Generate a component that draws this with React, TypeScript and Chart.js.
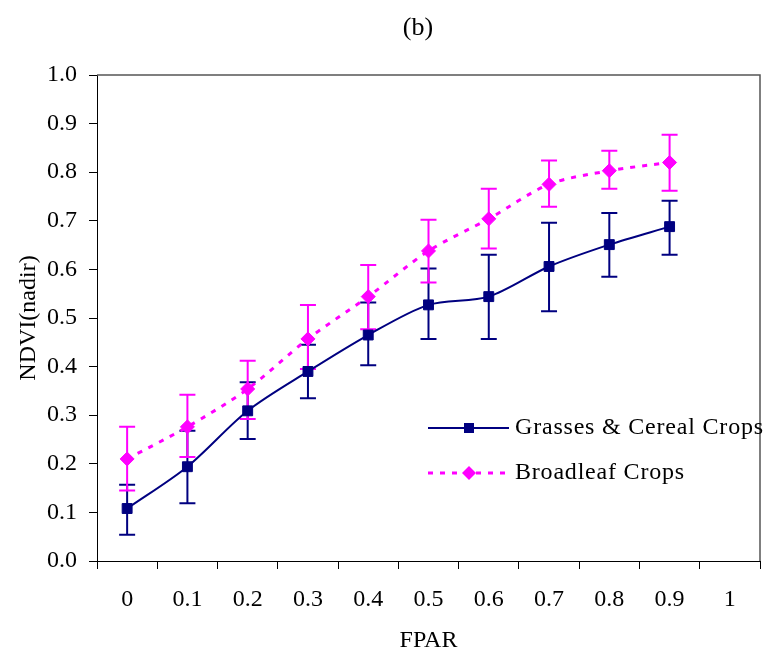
import React, { useEffect, useRef } from 'react';
import { Chart, registerables } from 'chart.js';

Chart.register(...registerables);

const categories = ['0', '0.1', '0.2', '0.3', '0.4', '0.5', '0.6', '0.7', '0.8', '0.9', '1'];

const grassesValues = [0.108, 0.194, 0.309, 0.39, 0.465, 0.527, 0.544, 0.606, 0.651, 0.688, null];
const grassesLower = [0.054, 0.119, 0.251, 0.335, 0.403, 0.457, 0.457, 0.514, 0.585, 0.63, null];
const grassesUpper = [0.157, 0.268, 0.368, 0.445, 0.532, 0.602, 0.63, 0.696, 0.716, 0.741, null];

const broadleafValues = [0.21, 0.276, 0.354, 0.457, 0.544, 0.638, 0.704, 0.775, 0.803, 0.82, null];
const broadleafLower = [0.145, 0.214, 0.292, 0.395, 0.477, 0.573, 0.643, 0.729, 0.766, 0.762, null];
const broadleafUpper = [0.276, 0.342, 0.412, 0.527, 0.609, 0.702, 0.766, 0.824, 0.844, 0.877, null];

const yTickLabels = ['0.0', '0.1', '0.2', '0.3', '0.4', '0.5', '0.6', '0.7', '0.8', '0.9', '1.0'];

const seriesNames = ['Grasses & Cereal Crops', 'Broadleaf Crops'];
const NAVY = '#000080';
const MAGENTA = '#FF00FF';
const FONT = "'Liberation Serif', 'Times New Roman', Times, serif";

const errorBarSets = [
  { lower: grassesLower, upper: grassesUpper, color: NAVY },
  { lower: broadleafLower, upper: broadleafUpper, color: MAGENTA },
];

const framePlugin = {
  id: 'frame',
  beforeDatasetsDraw(chart: any) {
    const { ctx, chartArea } = chart;
    ctx.save();
    ctx.strokeStyle = '#555555';
    ctx.lineWidth = 1.5;
    ctx.beginPath();
    ctx.moveTo(chartArea.left, chartArea.top);
    ctx.lineTo(chartArea.right, chartArea.top);
    ctx.lineTo(chartArea.right, chartArea.bottom);
    ctx.stroke();
    ctx.restore();
  },
};

const errorBarPlugin = {
  id: 'errorBars',
  beforeDatasetsDraw(chart: any) {
    const { ctx } = chart;
    const yScale = chart.scales.y;
    ctx.save();
    errorBarSets.forEach((set, i) => {
      const meta = chart.getDatasetMeta(i);
      ctx.strokeStyle = set.color;
      ctx.lineWidth = 2;
      meta.data.forEach((pt: any, j: number) => {
        const lo = set.lower[j];
        const hi = set.upper[j];
        if (lo == null || hi == null) return;
        const x = pt.x;
        const yl = yScale.getPixelForValue(lo);
        const yh = yScale.getPixelForValue(hi);
        ctx.beginPath();
        ctx.moveTo(x, yl);
        ctx.lineTo(x, yh);
        ctx.moveTo(x - 8, yl);
        ctx.lineTo(x + 8, yl);
        ctx.moveTo(x - 8, yh);
        ctx.lineTo(x + 8, yh);
        ctx.stroke();
      });
    });
    ctx.restore();
  },
};

const textPlugin = {
  id: 'texts',
  afterDraw(chart: any) {
    const { ctx, chartArea } = chart;
    ctx.save();
    // title
    ctx.fillStyle = '#000';
    ctx.font = `26px ${FONT}`;
    ctx.textAlign = 'center';
    ctx.textBaseline = 'middle';
    ctx.fillText('(b)', chartArea.left + 321, 28);

    // legend
    const lx0 = chartArea.left + 331;
    const lx1 = chartArea.left + 412;
    const mx = chartArea.left + 372;
    const tx = chartArea.left + 418;
    const y1 = chartArea.bottom - 133;
    const y2 = chartArea.bottom - 88;

    ctx.strokeStyle = NAVY;
    ctx.lineWidth = 2;
    ctx.setLineDash([]);
    ctx.beginPath();
    ctx.moveTo(lx0, y1);
    ctx.lineTo(lx1, y1);
    ctx.stroke();
    ctx.fillStyle = NAVY;
    ctx.fillRect(mx - 5, y1 - 5, 10, 10);

    ctx.strokeStyle = MAGENTA;
    ctx.lineWidth = 3;
    ctx.setLineDash([5, 7]);
    ctx.beginPath();
    ctx.moveTo(lx0, y2);
    ctx.lineTo(lx1, y2);
    ctx.stroke();
    ctx.setLineDash([]);
    ctx.fillStyle = MAGENTA;
    ctx.beginPath();
    ctx.moveTo(mx, y2 - 7);
    ctx.lineTo(mx + 7, y2);
    ctx.lineTo(mx, y2 + 7);
    ctx.lineTo(mx - 7, y2);
    ctx.closePath();
    ctx.fill();

    ctx.fillStyle = '#000';
    ctx.font = `24px ${FONT}`;
    ctx.textAlign = 'left';
    ctx.textBaseline = 'middle';
    try { (ctx as any).letterSpacing = '0.8px'; } catch (e) {}
    ctx.fillText(seriesNames[0], tx, y1);
    ctx.fillText(seriesNames[1], tx, y2);
    ctx.restore();
  },
};

export default function App() {
  const ref = useRef<HTMLCanvasElement | null>(null);

  useEffect(() => {
    document.body.style.margin = '0';
    if (!ref.current) return;
    Chart.defaults.font.family = FONT;
    Chart.defaults.color = '#000';
    const chart = new Chart(ref.current, {
      type: 'line',
      data: {
        labels: categories,
        datasets: [
          {
            label: seriesNames[0],
            data: grassesValues,
            borderColor: NAVY,
            backgroundColor: NAVY,
            borderWidth: 2,
            tension: 0.3,
            pointStyle: 'rect',
            pointRadius: 7,
            pointBorderWidth: 1,
            pointBackgroundColor: NAVY,
            pointBorderColor: NAVY,
          },
          {
            label: seriesNames[1],
            data: broadleafValues,
            borderColor: MAGENTA,
            backgroundColor: MAGENTA,
            borderWidth: 3,
            borderDash: [5, 7],
            tension: 0.3,
            pointStyle: 'rectRot',
            pointRadius: 7,
            pointBorderWidth: 1,
            pointBackgroundColor: MAGENTA,
            pointBorderColor: MAGENTA,
          },
        ],
      },
      options: {
        responsive: false,
        animation: false,
        layout: { padding: { top: 75, right: 1, left: 0, bottom: 0 } },
        plugins: {
          legend: { display: false },
          title: { display: false },
          tooltip: { enabled: false },
        },
        scales: {
          x: {
            type: 'category',
            offset: true,
            afterFit(scale: any) { scale.height = 100; },
            grid: {
              offset: true,
              drawOnChartArea: false,
              drawTicks: true,
              tickLength: 8,
              color: '#000',
            },
            border: { display: true, color: '#000', width: 1 },
            ticks: {
              font: { size: 24, family: FONT },
              color: '#000',
              padding: 16,
              maxRotation: 0,
              autoSkip: false,
            },
            title: {
              display: true,
              text: 'FPAR',
              font: { size: 24, family: FONT },
              color: '#000',
              padding: { top: 0, bottom: 6 },
            },
          },
          y: {
            min: 0,
            max: 1,
            afterFit(scale: any) { scale.width = 97; },
            grid: {
              drawOnChartArea: false,
              drawTicks: true,
              tickLength: 8,
              color: '#000',
            },
            border: { display: true, color: '#000', width: 1 },
            ticks: {
              stepSize: 0.1,
              font: { size: 24, family: FONT },
              color: '#000',
              padding: 12,
              callback: (_v: any, i: number) => yTickLabels[i],
            },
            title: {
              display: true,
              text: 'NDVI(nadir)',
              font: { size: 24, family: FONT },
              color: '#000',
              padding: { top: 14, bottom: 0 },
            },
          },
        },
      },
      plugins: [framePlugin, errorBarPlugin, textPlugin],
    });
    return () => chart.destroy();
  }, []);

  return <canvas ref={ref} width={768} height={661} style={{ display: 'block' }} />;
}
